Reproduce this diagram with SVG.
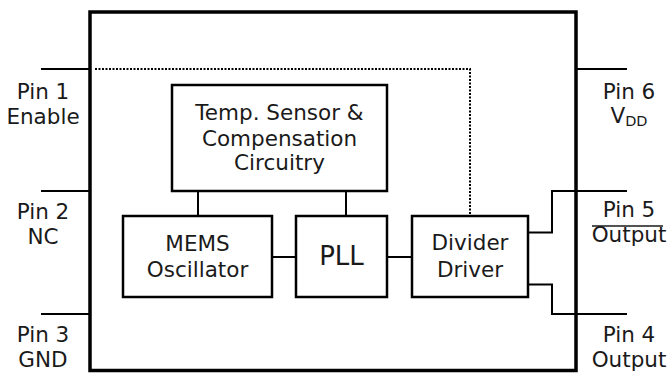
<svg xmlns="http://www.w3.org/2000/svg" width="670" height="373" viewBox="0 0 670 373">
<style>
text{font-family:"DejaVu Sans",Verdana,sans-serif;fill:#1a1a1a;text-anchor:middle}
.lbl{font-size:21.5px}
.in{font-size:21.5px}
.blk{fill:#fff;stroke:#000;stroke-width:2.5}
.w{fill:none;stroke:#000;stroke-width:2}
</style>
<rect width="670" height="373" fill="#fff"/>
<g id="chip"><rect x="90" y="12" width="486" height="358.5" fill="none" stroke="#000" stroke-width="3.5"/></g>
<g id="connectors">
<path class="w" d="M41 69H90M41 191H90M41 314H90M576 69H627"/>
<path class="w" d="M198 191V216M346 191V216M272 257H296M387 257H412"/>
<path class="w" d="M528 232.5H552V191H627M528 284.5H552V314H627"/>
<path d="M95 69H470V214" fill="none" stroke="#000" stroke-width="2" stroke-dasharray="2 1.5"/>
</g>
<g id="temp"><rect class="blk" x="172" y="85" width="215" height="106"/>
<text class="in" x="279.5" y="120">Temp. Sensor &amp;</text>
<text class="in" x="279.5" y="146">Compensation</text>
<text class="in" x="279.5" y="170">Circuitry</text></g>
<g id="mems"><rect class="blk" x="123" y="216" width="149" height="81"/>
<text class="in" x="197.5" y="251">MEMS</text>
<text class="in" x="197.5" y="277">Oscillator</text></g>
<g id="pll"><rect class="blk" x="296" y="216" width="91" height="81"/>
<text x="341.5" y="264.5" font-size="26">PLL</text></g>
<g id="divider"><rect class="blk" x="412" y="216" width="116" height="81"/>
<text class="in" x="470" y="250">Divider</text>
<text class="in" x="470" y="277">Driver</text></g>
<g id="pin1"><text class="lbl" x="43" y="98.5">Pin 1</text><text class="lbl" x="43" y="123.5">Enable</text></g>
<g id="pin2"><text class="lbl" x="43" y="218.5">Pin 2</text><text class="lbl" x="43" y="243.5">NC</text></g>
<g id="pin3"><text class="lbl" x="43" y="342">Pin 3</text><text class="lbl" x="43" y="367">GND</text></g>
<g id="pin6"><text class="lbl" x="629" y="98.5">Pin 6</text><text class="lbl" x="629" y="123">V<tspan font-size="14.5" dy="3">DD</tspan></text></g>
<g id="pin5"><text class="lbl" x="629" y="217">Pin 5</text><line x1="592" y1="226" x2="663" y2="226" stroke="#1a1a1a" stroke-width="1.5"/><text class="lbl" x="629" y="242">Output</text></g>
<g id="pin4"><text class="lbl" x="629" y="342">Pin 4</text><text class="lbl" x="629" y="367">Output</text></g>
</svg>
